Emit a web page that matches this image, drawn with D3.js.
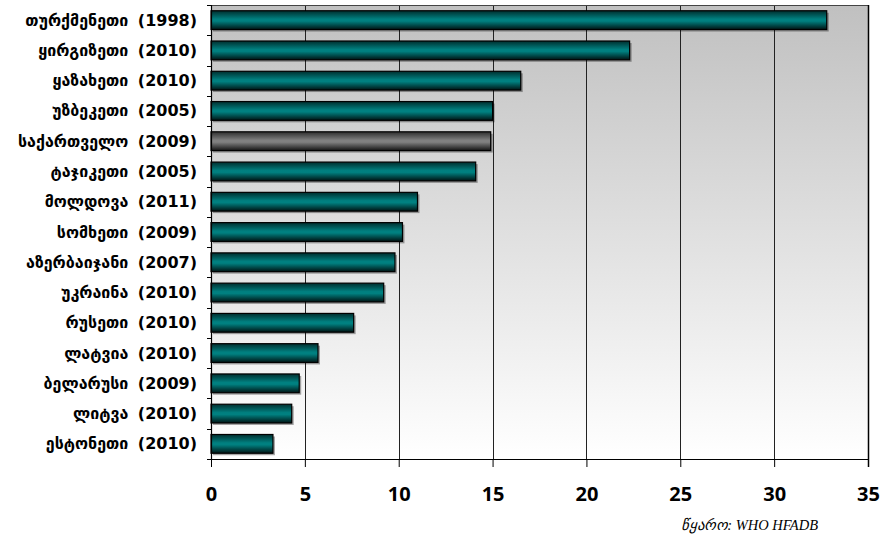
<!DOCTYPE html>
<html><head><meta charset="utf-8">
<script src="https://cdn.jsdelivr.net/npm/d3@7"></script>
<style>html,body{margin:0;padding:0;background:#fff;}svg{display:block;}</style>
</head><body>
<svg id="chart" width="883" height="547"></svg>
<script>
const categories = [
  "თურქმენეთი (1998)", "ყირგიზეთი (2010)", "ყაზახეთი (2010)", "უზბეკეთი (2005)",
  "საქართველო (2009)", "ტაჯიკეთი (2005)", "მოლდოვა (2011)", "სომხეთი (2009)",
  "აზერბაიჯანი (2007)", "უკრაინა (2010)", "რუსეთი (2010)", "ლატვია (2010)",
  "ბელარუსი (2009)", "ლიტვა (2010)", "ესტონეთი (2010)"
];
const values = [32.8, 22.3, 16.5, 15.0, 14.9, 14.1, 11.0, 10.2, 9.8, 9.2, 7.6, 5.7, 4.7, 4.3, 3.3];
const highlightCategory = "საქართველო (2009)";
const xTicks = [0, 5, 10, 15, 20, 25, 30, 35];
const sourceText = "წყარო: WHO HFADB";

const svg = d3.select("#chart");
const L = 211, R = 868, T = 5, B = 459;

const x = d3.scaleLinear().domain([0, 35]).range([L, R]);
const y = d3.scaleBand().domain(categories).range([T, B]).paddingInner(0.38).paddingOuter(0.19);

const defs = svg.append("defs");
const bg = defs.append("linearGradient").attr("id", "bg").attr("x1", 0).attr("y1", 0).attr("x2", 0).attr("y2", 1);
bg.append("stop").attr("offset", "0%").attr("stop-color", "#c0c0c0");
bg.append("stop").attr("offset", "100%").attr("stop-color", "#ffffff");

function barGrad(id, mid, edgeTop, edgeBot) {
  const g = defs.append("linearGradient").attr("id", id).attr("x1", 0).attr("y1", 0).attr("x2", 0).attr("y2", 1);
  g.append("stop").attr("offset", "0%").attr("stop-color", edgeTop);
  g.append("stop").attr("offset", "45%").attr("stop-color", mid);
  g.append("stop").attr("offset", "55%").attr("stop-color", mid);
  g.append("stop").attr("offset", "100%").attr("stop-color", edgeBot);
}
barGrad("teal", "#008080", "#002e2e", "#001414");
barGrad("gray", "#808080", "#2e2e2e", "#141414");

// plot background
svg.append("rect").attr("x", L).attr("y", T).attr("width", R - L).attr("height", B - T).attr("fill", "url(#bg)");

// gridlines
svg.append("g").selectAll("line").data(xTicks.filter(d => d > 0 && d < 35)).join("line")
  .attr("x1", d => Math.round(x(d)) + 0.5).attr("x2", d => Math.round(x(d)) + 0.5)
  .attr("y1", T).attr("y2", B).attr("stroke", "#222").attr("stroke-width", 1);

// plot border top / right
svg.append("line").attr("x1", L).attr("x2", R).attr("y1", T + 0.5).attr("y2", T + 0.5).attr("stroke", "#444");
svg.append("line").attr("x1", R + 0.5).attr("x2", R + 0.5).attr("y1", T).attr("y2", B + 8).attr("stroke", "#000").attr("stroke-width", 1.5);

// bars
const bars = svg.append("g");
const rows = categories.map((c, i) => ({c, v: values[i]}));
bars.selectAll("rect.sh").data(rows).join("rect").attr("class", "sh")
  .attr("x", x(0) + 2).attr("y", d => y(d.c) + 2)
  .attr("width", d => x(d.v) - x(0)).attr("height", y.bandwidth())
  .attr("fill", "#000").attr("opacity", 0.35);
bars.selectAll("rect.bar").data(rows).join("rect").attr("class", "bar")
  .attr("x", x(0)).attr("y", d => y(d.c))
  .attr("width", d => x(d.v) - x(0)).attr("height", y.bandwidth())
  .attr("fill", d => d.c === highlightCategory ? "url(#gray)" : "url(#teal)")
  .attr("stroke", "#000").attr("stroke-width", 1.2);

// left axis line and ticks at band boundaries
svg.append("line").attr("x1", L + 0.5).attr("x2", L + 0.5).attr("y1", T).attr("y2", B).attr("stroke", "#000").attr("stroke-width", 1.2);
const step = y.step();
const bounds = d3.range(categories.length + 1).map(k => T + k * step);
svg.append("g").selectAll("line").data(bounds).join("line")
  .attr("x1", L - 4).attr("x2", L).attr("y1", d => Math.round(d) + 0.5).attr("y2", d => Math.round(d) + 0.5)
  .attr("stroke", "#000");

// bottom axis
const xAxis = d3.axisBottom(x).tickValues(xTicks).tickSize(8).tickPadding(20).tickSizeOuter(0);
const gx = svg.append("g").attr("transform", `translate(0,${B})`).call(xAxis);
gx.select(".domain").attr("stroke", "#000").attr("stroke-width", 1.2).attr("d", `M${L - 4},0.5H${R}`);
gx.selectAll(".tick line").attr("stroke", "#000");
gx.selectAll(".tick text").attr("font-family", "'Open Sans', sans-serif").attr("font-weight", "bold")
  .attr("font-size", "20px").attr("fill", "#000");

// category labels
svg.append("g").selectAll("text").data(categories).join("text")
  .attr("x", 197).attr("y", d => y(d) + y.bandwidth() / 2 + 1)
  .attr("text-anchor", "end").attr("dominant-baseline", "middle")
  .attr("font-family", "'DejaVu Sans', sans-serif").attr("font-weight", "bold")
  .attr("font-size", "16px").attr("word-spacing", "4px").attr("fill", "#000")
  .text(d => d);

// source
svg.append("text").attr("x", 818).attr("y", 530).attr("text-anchor", "end")
  .attr("font-family", "'Liberation Serif', serif").attr("font-style", "italic")
  .attr("font-size", "14.5px").attr("fill", "#000").text(sourceText);
</script>
</body></html>
